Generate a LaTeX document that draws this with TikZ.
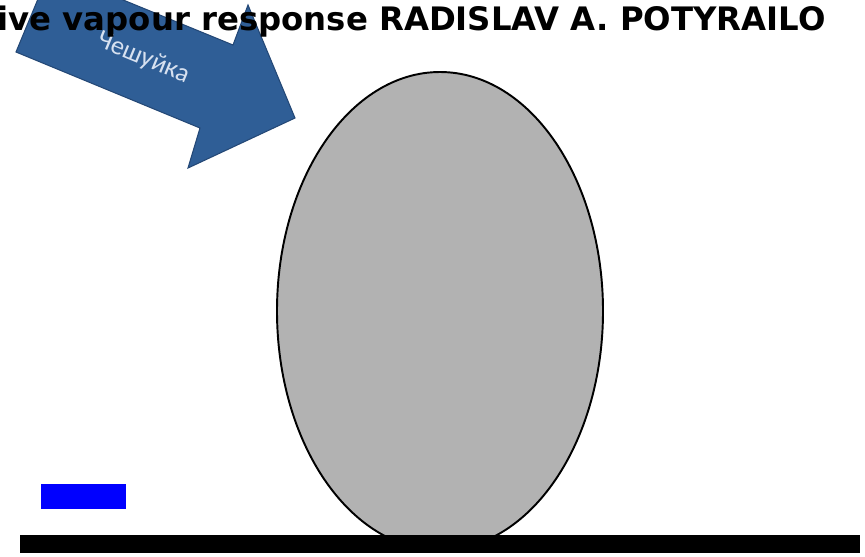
\documentclass[tikz,border=0pt]{standalone}
\usepackage{fontspec}
\setmainfont{DejaVu Sans}
\newfontfamily\labelfont{Carlito}
\usetikzlibrary{positioning}
\definecolor{arrowblue}{RGB}{47,94,150}
\definecolor{arrowedge}{RGB}{36,72,118}
\definecolor{labeltext}{RGB}{215,225,240}
\tikzset{
  drop/.style={fill=black!30, draw=black, line width=1.1pt},
  chip/.style={fill=blue},
  base/.style={fill=black},
  pointer/.style={fill=arrowblue, draw=arrowedge, line width=0.6pt},
  heading/.style={font=\bfseries\fontsize{18.4}{21}\selectfont, inner sep=0pt},
  tag/.style={font=\labelfont\fontsize{15}{17}\selectfont, text=labeltext, inner sep=0pt},
}

\begin{document}
\begin{tikzpicture}[x=0.02cm, y=-0.02cm]
  \path[use as bounding box, clip] (0,0) rectangle (865,556);
  \draw[drop] (440,311) ellipse [x radius=163, y radius=239];
  \fill[base] (20,535) rectangle (860,553);
  \fill[chip] (41,484) rectangle (126,509);
  % block arrow pointing at the drop
  \filldraw[pointer] (50,-30) -- (16,52) -- (200,128) -- (188,168) -- (295,118)
    -- (248,5) -- (233,45) -- cycle;
  \node[tag, rotate=-22.4] (scale) at (143,58) {Чешуйка};
  \node[heading, anchor=base east] (title) at (826,30) {ive vapour response RADISLAV A. POTYRAILO};
\end{tikzpicture}
\end{document}
